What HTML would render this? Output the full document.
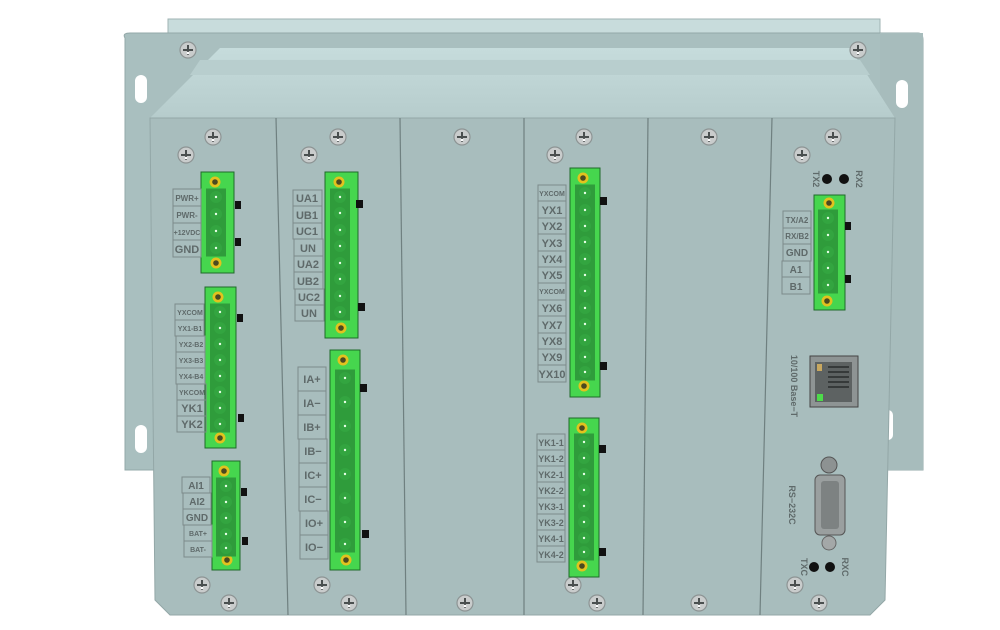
<!DOCTYPE html>
<html><head><meta charset="utf-8"><style>
html,body{margin:0;padding:0;background:#fff;}
svg{display:block}
.l{font-family:"Liberation Sans",sans-serif;font-weight:bold;fill:#5f6a6a;text-anchor:middle}
.b{fill:none;stroke:#7d8a8a;stroke-width:1}
</style></head><body>
<svg width="1000" height="630" viewBox="0 0 1000 630" xmlns="http://www.w3.org/2000/svg">
<defs>
<g id="sc"><circle r="8" fill="#c9cccc" stroke="#8d9494" stroke-width="1.2"/><path d="M-5 0H5M0 -5V5" stroke="#4a4f4f" stroke-width="2"/><circle cy="3" r="1.3" fill="#fff"/></g>
<g id="pin"><rect x="-10" y="-8.5" width="20" height="17" fill="#2f9c3b"/><circle r="6" fill="#33a540"/><circle r="1.2" fill="#e6ffe6"/></g>
<g id="ys"><circle r="5.5" fill="#e2c21e"/><circle r="2.8" fill="#4a4a20"/></g>
<linearGradient id="tg" x1="0" y1="0" x2="0" y2="1"><stop offset="0" stop-color="#c6dcdc"/><stop offset="1" stop-color="#b6cccc"/></linearGradient>
</defs>
<!-- back box & flange -->
<rect x="168" y="19" width="712" height="30" fill="#c8dcdc" stroke="#9fb3b3"/>
<path d="M125 38 Q122 33 130 33 H918 Q923 33 923 40 V470 H880 V120 H168 V470 H125 Z" fill="#a9bfbf" stroke="#93a8a8"/>
<rect x="880" y="33" width="43" height="437" fill="#a7bcbc"/>
<rect x="135" y="75" width="12" height="28" rx="6" fill="#fff"/>
<rect x="135" y="425" width="12" height="28" rx="6" fill="#fff"/>
<rect x="896" y="80" width="12" height="28" rx="6" fill="#fff"/>
<rect x="883" y="410" width="10" height="30" rx="5" fill="#fff"/>
<path d="M150 118 L220 48 H850 L895 118 Z" fill="url(#tg)"/>
<path d="M200 60 H860 L870 75 H190 Z" fill="#b8cece"/>
<use href="#sc" x="188" y="50"/><use href="#sc" x="858" y="50"/>
<!-- front panel -->
<path d="M150 118 H895 L885 600 L870 615 H170 L155 600 Z" fill="#a8bdbd" stroke="#93a7a7"/>
<g stroke="#6f8080" stroke-width="1.2">
<line x1="276" y1="118" x2="288" y2="615"/><line x1="400" y1="118" x2="406" y2="615"/>
<line x1="524" y1="118" x2="524" y2="615"/><line x1="648" y1="118" x2="643" y2="615"/>
<line x1="772" y1="118" x2="760" y2="615"/>
</g>
<!-- screws -->
<use href="#sc" x="213" y="137"/><use href="#sc" x="338" y="137"/><use href="#sc" x="462" y="137"/><use href="#sc" x="584" y="137"/><use href="#sc" x="709" y="137"/><use href="#sc" x="833" y="137"/>
<use href="#sc" x="186" y="155"/><use href="#sc" x="309" y="155"/><use href="#sc" x="555" y="155"/><use href="#sc" x="802" y="155"/>
<use href="#sc" x="202" y="585"/><use href="#sc" x="229" y="603"/><use href="#sc" x="322" y="585"/><use href="#sc" x="349" y="603"/><use href="#sc" x="465" y="603"/><use href="#sc" x="573" y="585"/><use href="#sc" x="597" y="603"/><use href="#sc" x="699" y="603"/><use href="#sc" x="795" y="585"/><use href="#sc" x="819" y="603"/>

<!-- Connector M1 a -->
<rect x="201" y="172" width="33" height="101" fill="#46d64e" stroke="#1f6a2a"/>
<use href="#ys" x="215" y="182"/><use href="#ys" x="216" y="263"/>
<use href="#pin" x="216" y="197"/><use href="#pin" x="216" y="214"/><use href="#pin" x="216" y="231"/><use href="#pin" x="216" y="248"/>
<rect x="235" y="201" width="6" height="8" fill="#111"/><rect x="235" y="238" width="6" height="8" fill="#111"/>
<g class="b"><rect x="173" y="189" width="28" height="17"/><rect x="173" y="206" width="28" height="17"/><rect x="173" y="223" width="28" height="17"/><rect x="173" y="240" width="28" height="17"/></g>
<text class="l" font-size="8" x="187" y="201">PWR+</text><text class="l" font-size="8" x="187" y="218">PWR-</text><text class="l" font-size="7" x="187" y="235">+12VDC</text><text class="l" font-size="11" x="187" y="253">GND</text>
<!-- M1 b -->
<rect x="205" y="287" width="31" height="161" fill="#46d64e" stroke="#1f6a2a"/>
<use href="#ys" x="218" y="297"/><use href="#ys" x="220" y="438"/>
<use href="#pin" x="220" y="312"/><use href="#pin" x="220" y="328"/><use href="#pin" x="220" y="344"/><use href="#pin" x="220" y="360"/><use href="#pin" x="220" y="376"/><use href="#pin" x="220" y="392"/><use href="#pin" x="220" y="408"/><use href="#pin" x="220" y="424"/>
<rect x="237" y="314" width="6" height="8" fill="#111"/><rect x="238" y="414" width="6" height="8" fill="#111"/>
<g class="b"><rect x="175" y="304" width="29" height="16"/><rect x="175" y="320" width="29" height="16"/><rect x="176" y="336" width="29" height="16"/><rect x="176" y="352" width="29" height="16"/><rect x="176" y="368" width="29" height="16"/><rect x="177" y="384" width="29" height="16"/><rect x="177" y="400" width="29" height="16"/><rect x="177" y="416" width="29" height="16"/></g>
<g class="l" font-size="7"><text x="190" y="315">YXCOM</text><text x="190" y="331">YX1-B1</text><text x="191" y="347">YX2-B2</text><text x="191" y="363">YX3-B3</text><text x="191" y="379">YX4-B4</text><text x="192" y="395">YKCOM</text></g>
<text class="l" font-size="11" x="192" y="412">YK1</text><text class="l" font-size="11" x="192" y="428">YK2</text>
<!-- M1 c -->
<rect x="212" y="461" width="28" height="109" fill="#46d64e" stroke="#1f6a2a"/>
<use href="#ys" x="224" y="471"/><use href="#ys" x="227" y="560"/>
<use href="#pin" x="226" y="486"/><use href="#pin" x="226" y="502"/><use href="#pin" x="226" y="518"/><use href="#pin" x="226" y="534"/><use href="#pin" x="226" y="548"/>
<rect x="241" y="488" width="6" height="8" fill="#111"/><rect x="242" y="537" width="6" height="8" fill="#111"/>
<g class="b"><rect x="182" y="477" width="28" height="16"/><rect x="183" y="493" width="28" height="16"/><rect x="183" y="509" width="28" height="16"/><rect x="184" y="525" width="28" height="16"/><rect x="184" y="541" width="28" height="16"/></g>
<text class="l" font-size="10" x="196" y="489">AI1</text><text class="l" font-size="10" x="197" y="505">AI2</text><text class="l" font-size="10" x="197" y="521">GND</text><text class="l" font-size="7" x="198" y="536">BAT+</text><text class="l" font-size="7" x="198" y="552">BAT-</text>

<!-- M2 a -->
<rect x="325" y="172" width="33" height="166" fill="#46d64e" stroke="#1f6a2a"/>
<use href="#ys" x="339" y="182"/><use href="#ys" x="341" y="328"/>
<use href="#pin" x="340" y="197"/><use href="#pin" x="340" y="213"/><use href="#pin" x="340" y="230"/><use href="#pin" x="340" y="246"/><use href="#pin" x="340" y="263"/><use href="#pin" x="340" y="279"/><use href="#pin" x="340" y="296"/><use href="#pin" x="340" y="312"/>
<rect x="356" y="200" width="7" height="8" fill="#111"/><rect x="358" y="303" width="7" height="8" fill="#111"/>
<g class="b"><rect x="293" y="190" width="29" height="16"/><rect x="293" y="206" width="29" height="17"/><rect x="293" y="223" width="29" height="16"/><rect x="294" y="239" width="29" height="17"/><rect x="294" y="256" width="29" height="16"/><rect x="294" y="272" width="29" height="17"/><rect x="295" y="289" width="29" height="16"/><rect x="295" y="305" width="29" height="16"/></g>
<g class="l" font-size="11"><text x="307" y="202">UA1</text><text x="307" y="219">UB1</text><text x="307" y="235">UC1</text><text x="308" y="252">UN</text><text x="308" y="268">UA2</text><text x="308" y="285">UB2</text><text x="309" y="301">UC2</text><text x="309" y="317">UN</text></g>
<!-- M2 b -->
<rect x="330" y="350" width="30" height="220" fill="#46d64e" stroke="#1f6a2a"/>
<use href="#ys" x="343" y="360"/><use href="#ys" x="346" y="560"/>
<rect x="335" y="370" width="20" height="182" fill="#2f9c3b"/>
<use href="#pin" x="345" y="378"/><use href="#pin" x="345" y="402"/><use href="#pin" x="345" y="426"/><use href="#pin" x="345" y="450"/><use href="#pin" x="345" y="474"/><use href="#pin" x="345" y="498"/><use href="#pin" x="345" y="522"/><use href="#pin" x="345" y="544"/>
<rect x="360" y="384" width="7" height="8" fill="#111"/><rect x="362" y="530" width="7" height="8" fill="#111"/>
<g class="b"><rect x="298" y="367" width="28" height="24"/><rect x="298" y="391" width="28" height="24"/><rect x="298" y="415" width="28" height="24"/><rect x="299" y="439" width="28" height="24"/><rect x="299" y="463" width="28" height="24"/><rect x="299" y="487" width="28" height="24"/><rect x="300" y="511" width="28" height="24"/><rect x="300" y="535" width="28" height="24"/></g>
<g class="l" font-size="11"><text x="312" y="383">IA+</text><text x="312" y="407">IA−</text><text x="312" y="431">IB+</text><text x="313" y="455">IB−</text><text x="313" y="479">IC+</text><text x="313" y="503">IC−</text><text x="314" y="527">IO+</text><text x="314" y="551">IO−</text></g>

<!-- M4 a -->
<rect x="570" y="168" width="30" height="229" fill="#46d64e" stroke="#1f6a2a"/>
<use href="#ys" x="583" y="178"/><use href="#ys" x="584" y="386"/>
<use href="#pin" x="585" y="193"/><use href="#pin" x="585" y="210"/><use href="#pin" x="585" y="226"/><use href="#pin" x="585" y="242"/><use href="#pin" x="585" y="259"/><use href="#pin" x="585" y="275"/><use href="#pin" x="585" y="291"/><use href="#pin" x="585" y="308"/><use href="#pin" x="585" y="324"/><use href="#pin" x="585" y="340"/><use href="#pin" x="585" y="357"/><use href="#pin" x="585" y="372"/>
<rect x="600" y="197" width="7" height="8" fill="#111"/><rect x="600" y="362" width="7" height="8" fill="#111"/>
<g class="b"><rect x="538" y="185" width="28" height="16"/><rect x="538" y="201" width="28" height="17"/><rect x="538" y="218" width="28" height="16"/><rect x="538" y="234" width="28" height="17"/><rect x="538" y="251" width="28" height="16"/><rect x="538" y="267" width="28" height="16"/><rect x="538" y="283" width="28" height="17"/><rect x="538" y="300" width="28" height="16"/><rect x="538" y="316" width="28" height="17"/><rect x="538" y="333" width="28" height="16"/><rect x="538" y="349" width="28" height="16"/><rect x="538" y="365" width="28" height="17"/></g>
<g class="l" font-size="11"><text x="552" y="214">YX1</text><text x="552" y="230">YX2</text><text x="552" y="247">YX3</text><text x="552" y="263">YX4</text><text x="552" y="279">YX5</text><text x="552" y="312">YX6</text><text x="552" y="329">YX7</text><text x="552" y="345">YX8</text><text x="552" y="361">YX9</text><text x="552" y="378">YX10</text></g>
<text class="l" font-size="7" x="552" y="196">YXCOM</text><text class="l" font-size="7" x="552" y="294">YXCOM</text>
<!-- M4 b -->
<rect x="569" y="418" width="30" height="159" fill="#46d64e" stroke="#1f6a2a"/>
<use href="#ys" x="582" y="428"/><use href="#ys" x="582" y="566"/>
<use href="#pin" x="584" y="442"/><use href="#pin" x="584" y="458"/><use href="#pin" x="584" y="474"/><use href="#pin" x="584" y="490"/><use href="#pin" x="584" y="506"/><use href="#pin" x="584" y="522"/><use href="#pin" x="584" y="538"/><use href="#pin" x="584" y="552"/>
<rect x="599" y="445" width="7" height="8" fill="#111"/><rect x="599" y="548" width="7" height="8" fill="#111"/>
<g class="b"><rect x="537" y="434" width="28" height="16"/><rect x="537" y="450" width="28" height="16"/><rect x="537" y="466" width="28" height="16"/><rect x="537" y="482" width="28" height="16"/><rect x="537" y="498" width="28" height="16"/><rect x="537" y="514" width="28" height="16"/><rect x="537" y="530" width="28" height="16"/><rect x="537" y="546" width="28" height="16"/></g>
<g class="l" font-size="9"><text x="551" y="446">YK1-1</text><text x="551" y="462">YK1-2</text><text x="551" y="478">YK2-1</text><text x="551" y="494">YK2-2</text><text x="551" y="510">YK3-1</text><text x="551" y="526">YK3-2</text><text x="551" y="542">YK4-1</text><text x="551" y="558">YK4-2</text></g>

<!-- M6 -->
<circle cx="827" cy="179" r="5" fill="#111"/><circle cx="844" cy="179" r="5" fill="#111"/>
<text class="l" font-size="9" font-weight="normal" transform="translate(813,179) rotate(90)">TX2</text>
<text class="l" font-size="9" font-weight="normal" transform="translate(856,179) rotate(90)">RX2</text>
<rect x="814" y="195" width="31" height="115" fill="#46d64e" stroke="#1f6a2a"/>
<use href="#ys" x="829" y="203"/><use href="#ys" x="827" y="301"/>
<use href="#pin" x="828" y="218"/><use href="#pin" x="828" y="235"/><use href="#pin" x="828" y="252"/><use href="#pin" x="828" y="268"/><use href="#pin" x="828" y="285"/>
<rect x="845" y="222" width="6" height="8" fill="#111"/><rect x="845" y="275" width="6" height="8" fill="#111"/>
<g class="b"><rect x="783" y="211" width="28" height="17"/><rect x="783" y="228" width="28" height="16"/><rect x="783" y="244" width="28" height="17"/><rect x="782" y="261" width="28" height="16"/><rect x="782" y="277" width="28" height="17"/></g>
<g class="l"><text font-size="8" x="797" y="223">TX/A2</text><text font-size="8" x="797" y="239">RX/B2</text><text font-size="10" x="797" y="256">GND</text><text font-size="10" x="796" y="273">A1</text><text font-size="10" x="796" y="290">B1</text></g>
<text class="l" font-size="9" font-weight="normal" transform="translate(791,386) rotate(90)">10/100 Base−T</text>
<rect x="810" y="356" width="48" height="51" fill="#8e9494" stroke="#444"/>
<rect x="815" y="362" width="37" height="40" fill="#5d6262"/>
<rect x="817" y="364" width="5" height="7" fill="#c8a860"/><rect x="817" y="394" width="6" height="7" fill="#4ddb4a"/>
<g stroke="#2a2d2d" stroke-width="1.5"><line x1="828" y1="367" x2="849" y2="367"/><line x1="828" y1="372" x2="849" y2="372"/><line x1="828" y1="377" x2="849" y2="377"/><line x1="828" y1="382" x2="849" y2="382"/><line x1="828" y1="387" x2="849" y2="387"/></g>
<text class="l" font-size="9" font-weight="normal" transform="translate(789,505) rotate(90)">RS−232C</text>
<circle cx="829" cy="465" r="8" fill="#8d9292" stroke="#555"/>
<rect x="815" y="475" width="30" height="60" rx="5" fill="#9a9f9f" stroke="#555"/>
<rect x="821" y="481" width="18" height="48" rx="3" fill="#7d8282"/>
<circle cx="829" cy="543" r="7" fill="#a4a8a8" stroke="#666"/>
<circle cx="814" cy="567" r="5" fill="#111"/><circle cx="830" cy="567" r="5" fill="#111"/>
<text class="l" font-size="9" font-weight="normal" transform="translate(801,567) rotate(90)">TXC</text>
<text class="l" font-size="9" font-weight="normal" transform="translate(842,567) rotate(90)">RXC</text>
</svg>
</body></html>
